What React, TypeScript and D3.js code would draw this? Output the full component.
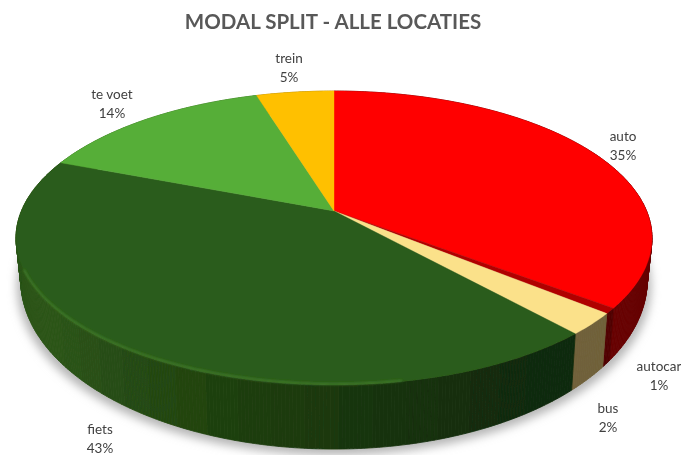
import React from "react";
import * as d3 from "d3";

const categories = ["auto", "autocar", "bus", "fiets", "te voet", "trein"];
const values = [35.4, 0.6, 2.4, 42.5, 14.4, 4.7];
const percentLabels = ["35%", "1%", "2%", "43%", "14%", "5%"];
const topColors = ["#ff0000", "#b00000", "#fbe18a", "#2a5c1a", "#57ae38", "#ffc000"];
const wallLeft = ["#7a0000", "#5a0000", "#85744a", "#2b5416", "#3d7a26", "#b38600"];
const wallRight = ["#660000", "#500000", "#6e5f38", "#11290a", "#3d7a26", "#b38600"];
const labelX = [623, 659, 608, 100, 112, 289];
const labelY = [137, 367, 409, 430, 95, 59];

const W = 681, H = 455;
const APEX = { x: 334, y: 211 };
const R = 312.6, K = 142, P = 0.1837;
const WALL_A = 1.15, WALL_B = 38, WALL_SX = 0.985;

const project = (a: number) => {
  const u = Math.sin(a), v = Math.cos(a), w = 1 + P * v;
  return { x: (u * R) / w, y: (-v * K) / w };
};
const topPt = (a: number): [number, number] => {
  const p = project(a);
  return [APEX.x + p.x, APEX.y + p.y];
};
const lowPt = (a: number): [number, number] => {
  const p = project(a);
  return [APEX.x + p.x * WALL_SX, APEX.y + p.y * WALL_A + WALL_B];
};
const line = d3.line();
const angles = (a0: number, a1: number) => {
  const n = Math.max(2, Math.ceil((a1 - a0) / 0.01));
  return d3.range(n + 1).map((i) => a0 + ((a1 - a0) * i) / n);
};

const pie = d3.pie<number>().sort(null).startAngle(0).endAngle(2 * Math.PI);
const arcs = pie(values);
const xT = d3.scaleLinear().domain([16, 651]).range([0, 1]).clamp(true);
const xFiets = d3.scalePow().exponent(0.6).domain([70, 540]).range([0, 1]).clamp(true);

export default function App() {
  const full = angles(0, 2 * Math.PI);
  const shadowPath = line(full.map((a) => {
    const [x, y] = lowPt(a);
    return [APEX.x + (x - APEX.x) * 1.012, y + 6] as [number, number];
  })) + "Z";

  const walls: React.ReactNode[] = [];
  arcs.forEach((s, i) => {
    const as = angles(s.startAngle, s.endAngle);
    for (let k = 0; k < as.length - 1; k++) {
      const a0 = as[k], a1 = as[k + 1];
      const [xm] = topPt((a0 + a1) / 2);
      // visible bands in the source's wall shading
      const band = Math.floor(k / 9) * 9;
      const [xb] = topPt(as[Math.min(band, as.length - 1)]);
      const t = i === 3 ? xFiets(xb) : xT(xm);
      const c = d3.interpolateRgb(wallLeft[i], wallRight[i])(t);
      const pts = [topPt(a0), topPt(a1), lowPt(a1), lowPt(a0)] as [number, number][];
      walls.push(<path key={`${i}-${k}`} d={line(pts) + "Z"} fill={c} stroke={c} strokeWidth={0.8} />);
    }
  });

  const wedge = (a0: number, a1: number) =>
    line([[APEX.x, APEX.y], ...angles(a0, a1).map(topPt)] as [number, number][]) + "Z";

  const fiets = arcs[3];
  const rim = line(angles(fiets.startAngle + 0.55, fiets.startAngle + 1.9).map((a) => {
    const [x, y] = topPt(a);
    return [x, y - 1] as [number, number];
  }));

  return (
    <svg width={W} height={H} viewBox={`0 0 ${W} ${H}`}
      style={{ position: "absolute", left: 0, top: 0, background: "#fff" }}>
      <defs>
        <filter id="soft" x="-5%" y="-5%" width="110%" height="110%"><feGaussianBlur stdDeviation="0.6" /></filter>
        <filter id="shadow" x="-10%" y="-10%" width="120%" height="120%"><feGaussianBlur stdDeviation="5" /></filter>
        <filter id="rim" x="-5%" y="-5%" width="110%" height="110%"><feGaussianBlur stdDeviation="1" /></filter>
        <filter id="txt" x="-5%" y="-20%" width="110%" height="140%"><feGaussianBlur stdDeviation="0.45" /></filter>
      </defs>
      <path d={shadowPath} fill="#b5b5b5" filter="url(#shadow)" />
      <g filter="url(#soft)">
        {walls}
        {arcs.map((s, i) => (
          <path key={categories[i]} d={wedge(s.startAngle, s.endAngle)} fill={topColors[i]} stroke={topColors[i]} strokeWidth={0.4} />
        ))}
        <path d={rim ?? ""} fill="none" stroke="#4f8f33" strokeOpacity={0.75} strokeWidth={1.6} filter="url(#rim)" />
      </g>
      <g filter="url(#txt)" fontFamily="Lato, sans-serif" textAnchor="middle">
        <text x={333} y={29} fontSize={20.5} fontWeight={700} fill="#595959">MODAL SPLIT - ALLE LOCATIES</text>
        {categories.map((c, i) => (
          <g key={c} fontSize={13.5} fill="#404040">
            <text x={labelX[i]} y={labelY[i] + 4}>{c}</text>
            <text x={labelX[i]} y={labelY[i] + 23}>{percentLabels[i]}</text>
          </g>
        ))}
      </g>
    </svg>
  );
}
